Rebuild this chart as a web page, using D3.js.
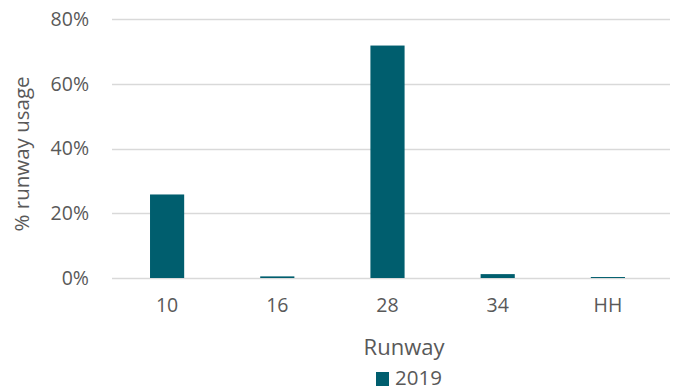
<!DOCTYPE html>
<html>
<head>
<meta charset="utf-8">
<script src="https://cdn.jsdelivr.net/npm/d3@7"></script>
<style>
  html, body { margin: 0; padding: 0; background: #fff; }
  text { font-family: "Open Sans", sans-serif; fill: #595959; }
</style>
</head>
<body>
<svg id="chart" width="686" height="390"></svg>
<script>
// Share of movements by runway, 2019
const runways = ["10", "16", "28", "34", "HH"];
const usage2019 = [0.258, 0.005, 0.718, 0.012, 0.003];
const yTicks = [0, 0.2, 0.4, 0.6, 0.8];
const seriesName = "2019";
const barColor = "#005E6E";

const svg = d3.select("#chart");
const margin = { left: 112, right: 23, top: 19, bottom: 112 };
const W = 686, H = 390;

const x = d3.scaleBand()
  .domain(runways)
  .range([margin.left, W - margin.right])
  .paddingInner(0.69)
  .paddingOuter(0.345);

const y = d3.scaleLinear()
  .domain([0, 0.8])
  .range([H - margin.bottom, margin.top]);

// gridlines
svg.append("g")
  .selectAll("line")
  .data(yTicks)
  .join("line")
  .attr("x1", margin.left)
  .attr("x2", W - margin.right + 7)
  .attr("y1", d => Math.round(y(d)) + 0.5)
  .attr("y2", d => Math.round(y(d)) + 0.5)
  .attr("stroke", "#D9D9D9")
  .attr("stroke-width", 1.3);

// y axis labels
const yAxis = d3.axisLeft(y).tickValues(yTicks).tickFormat(d3.format(".0%")).tickSize(0).tickPadding(0);
const gy = svg.append("g").attr("transform", `translate(${margin.left - 23},0)`).call(yAxis);
gy.select(".domain").remove();
gy.selectAll("text").style("font-size", "19.5px").attr("fill", "#595959").attr("font-family", "Open Sans, sans-serif");

// bars
svg.append("g")
  .selectAll("rect")
  .data(runways.map((r, i) => ({ r, v: usage2019[i] })))
  .join("rect")
  .attr("x", d => x(d.r))
  .attr("width", x.bandwidth())
  .attr("y", d => y(d.v))
  .attr("height", d => y(0) - y(d.v))
  .attr("fill", barColor);

// x axis labels
const xAxis = d3.axisBottom(x).tickSize(0).tickPadding(0);
const gx = svg.append("g").attr("transform", `translate(0,${H - margin.bottom + 20})`).call(xAxis);
gx.select(".domain").remove();
gx.selectAll("text").style("font-size", "19.5px").attr("fill", "#595959").attr("font-family", "Open Sans, sans-serif");

// axis titles
svg.append("text")
  .attr("x", 404)
  .attr("y", 355)
  .attr("text-anchor", "middle")
  .style("font-size", "22px")
  .text("Runway");

svg.append("text")
  .attr("transform", `translate(29,154) rotate(-90)`)
  .attr("text-anchor", "middle")
  .style("font-size", "20.5px")
  .text("% runway usage");

// legend
const lg = svg.append("g").attr("transform", "translate(376,372)");
lg.append("rect").attr("width", 13).attr("height", 14).attr("fill", barColor);
lg.append("text").attr("x", 19).attr("y", 13).style("font-size", "20.5px").text(seriesName);
</script>
</body>
</html>
